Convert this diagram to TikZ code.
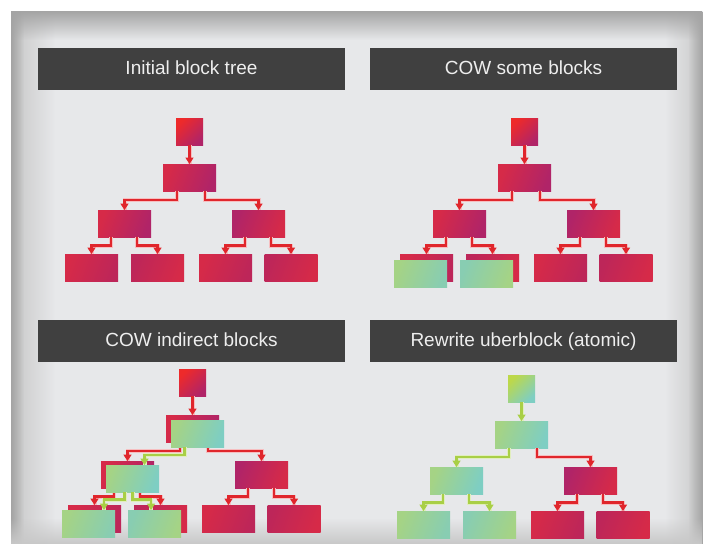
\documentclass[tikz,border=0pt]{standalone}
\usepackage{fontspec}
\setmainfont{Liberation Sans}
\usetikzlibrary{arrows.meta,fadings}
\definecolor{panelbg}{HTML}{E7E8EA}
\definecolor{edgegray}{HTML}{A4A4A4}
\definecolor{softgray}{HTML}{C8C8C8}
\definecolor{bargray}{HTML}{404040}
\definecolor{titlewhite}{HTML}{EEEEEE}
\definecolor{blockred}{HTML}{D62A48}
\definecolor{blockpurple}{HTML}{B02468}
\definecolor{leafpurple}{HTML}{BD2659}
\definecolor{rootred}{HTML}{EE2A2A}
\definecolor{blockgreen}{HTML}{A5D385}
\definecolor{blockteal}{HTML}{7ECEC3}
\definecolor{leafteal}{HTML}{88CDB2}
\definecolor{rootgreen}{HTML}{BDD84A}
\definecolor{linered}{HTML}{E0262C}
\definecolor{linegreen}{HTML}{A9CF46}
\tikzset{
    titleBar/.style = {fill=bargray, text=titlewhite, minimum width=307pt, minimum height=42pt,
                       inner sep=0pt, text height=14pt, text depth=3pt, font=\fontsize{19}{22}\selectfont},
    block/.style = {minimum width=53pt, minimum height=27pt, inner sep=0pt, outer sep=0pt},
    redBlock/.style = {block, left color=blockred, right color=blockpurple, shading angle=70},
    redFlip/.style = {block, left color=blockpurple, right color=blockred, shading angle=70},
    redLeaf/.style = {block, left color=blockred, right color=leafpurple, shading angle=70},
    redLeafFlip/.style = {block, left color=leafpurple, right color=blockred, shading angle=70},
    greenBlock/.style = {block, left color=blockgreen, right color=blockteal, shading angle=70},
    greenLeaf/.style = {block, left color=blockgreen, right color=leafteal, shading angle=70},
    greenLeafFlip/.style = {block, left color=leafteal, right color=blockgreen, shading angle=70},
    redRoot/.style = {block, minimum width=27pt, top color=rootred, bottom color=blockpurple, shading angle=45},
    greenRoot/.style = {block, minimum width=27pt, top color=rootgreen, bottom color=blockteal, shading angle=45},
    redEdge/.style = {draw=linered, line width=2.6pt, -{Triangle[width=8pt,length=6.5pt]},
                      preaction={draw=linered!30, line width=4pt, -}},
    greenEdge/.style = {draw=linegreen, line width=2.6pt, -{Triangle[width=8pt,length=6.5pt]},
                        preaction={draw=linegreen!35, line width=4pt, -}}
}
% red block tree: #1 name prefix, #2/#3 shift
\newcommand\redTree[3]{%
  \begin{scope}[shift={(#2,#3)}]
    \node [redRoot] (#1r) at (189.5,131.5) {};
    \node [redBlock] (#1a) at (189.5,177.5) {};
    \node [redBlock] (#1b1) at (124.5,223.5) {};
    \node [redFlip] (#1b2) at (258.5,223.5) {};
    \foreach \x/\s [count=\i] in {91.5/redLeaf,157.5/redLeafFlip,225.5/redLeaf,291/redLeafFlip}
      \node [\s] (#1c\i) at (\x,267.5) {};
    \draw [redEdge] (#1r) -- (#1a);
    \draw [redEdge] ([xshift=-12.5pt]#1a.south) -- ++(0,9) -| (#1b1.north);
    \draw [redEdge] ([xshift=15.5pt]#1a.south) -- ++(0,9) -| (#1b2.north);
    \draw [redEdge] ([xshift=-13.5pt]#1b1.south) -- ++(0,8.5) -| (#1c1.north);
    \draw [redEdge] ([xshift=12.5pt]#1b1.south) -- ++(0,8.5) -| (#1c2.north);
    \draw [redEdge] ([xshift=-13.5pt]#1b2.south) -- ++(0,8.5) -| (#1c3.north);
    \draw [redEdge] ([xshift=12.5pt]#1b2.south) -- ++(0,8.5) -| (#1c4.north);
  \end{scope}}

\begin{document}
\begin{tikzpicture}[x=1pt, y=-1pt]
  \useasboundingbox (0,0) rectangle (707,544);

  % panel with shaded edges
  \fill [panelbg] (11,11) rectangle (703,544);
  \fill [softgray, path fading=east] (11,11) rectangle (55,544);
  \fill [edgegray, path fading=east] (11,11) rectangle (24,544);
  \fill [softgray, path fading=west] (665,11) rectangle (703,544);
  \fill [edgegray, path fading=west] (688,11) rectangle (703,544);
  \fill [edgegray, path fading=south] (11,11) rectangle (703,40);
  \fill [softgray, path fading=north] (11,518) rectangle (703,544);

  % titles
  \foreach \x/\y/\txt [count=\i] in {191.5/69/Initial block tree, 523.5/69/COW some blocks,
                                     191.5/341/COW indirect blocks, 523.5/341/Rewrite uberblock (atomic)}
    \node [titleBar] (title\i) at (\x,\y) {\txt};

  % initial tree
  \redTree{p1}{0}{0}

  % cow some blocks
  \redTree{p2}{335}{0}
  \node [greenLeaf] (p2g1) at ([xshift=-6pt,yshift=-6pt]p2c1.center) {};
  \node [greenLeafFlip] (p2g2) at ([xshift=-6pt,yshift=-6pt]p2c2.center) {};

  % cow indirect blocks
  \redTree{p3}{3}{251}
  \node [greenBlock] (p3ga) at ([xshift=5pt,yshift=-5pt]p3a.center) {};
  \node [greenBlock] (p3gb) at ([xshift=5pt,yshift=-4pt]p3b1.center) {};
  \node [greenLeaf] (p3gc1) at ([xshift=-6pt,yshift=-5pt]p3c1.center) {};
  \node [greenLeafFlip] (p3gc2) at ([xshift=-6pt,yshift=-5pt]p3c2.center) {};
  \draw [greenEdge] ([xshift=-13pt]p3ga.south) -- ++(0,8) -| ([xshift=12pt]p3gb.north);
  \draw [greenEdge] ([xshift=-8pt]p3gb.south) -- ++(0,7.5) -| ([xshift=15.5pt]p3gc1.north);
  \draw [greenEdge] (p3gb.south) -- ++(0,7.5) -| ([xshift=-3.5pt]p3gc2.north);

  % rewrite uberblock
  \begin{scope}[shift={(332,257)}]
    \node [greenRoot] (p4r) at (189.5,131.5) {};
    \node [greenBlock] (p4a) at (189.5,177.5) {};
    \node [greenBlock] (p4b1) at (124.5,223.5) {};
    \node [redFlip] (p4b2) at (258.5,223.5) {};
    \foreach \x/\s [count=\i] in {91.5/greenLeaf,157.5/greenLeafFlip,225.5/redLeaf,291/redLeafFlip}
      \node [\s] (p4c\i) at (\x,267.5) {};
    \draw [greenEdge] (p4r) -- (p4a);
    \draw [greenEdge] ([xshift=-12.5pt]p4a.south) -- ++(0,9) -| (p4b1.north);
    \draw [redEdge] ([xshift=15.5pt]p4a.south) -- ++(0,9) -| (p4b2.north);
    \draw [greenEdge] ([xshift=-13.5pt]p4b1.south) -- ++(0,8.5) -| (p4c1.north);
    \draw [greenEdge] ([xshift=12.5pt]p4b1.south) -- ++(0,8.5) -| (p4c2.north);
    \draw [redEdge] ([xshift=-13.5pt]p4b2.south) -- ++(0,8.5) -| (p4c3.north);
    \draw [redEdge] ([xshift=12.5pt]p4b2.south) -- ++(0,8.5) -| (p4c4.north);
  \end{scope}
\end{tikzpicture}
\end{document}
